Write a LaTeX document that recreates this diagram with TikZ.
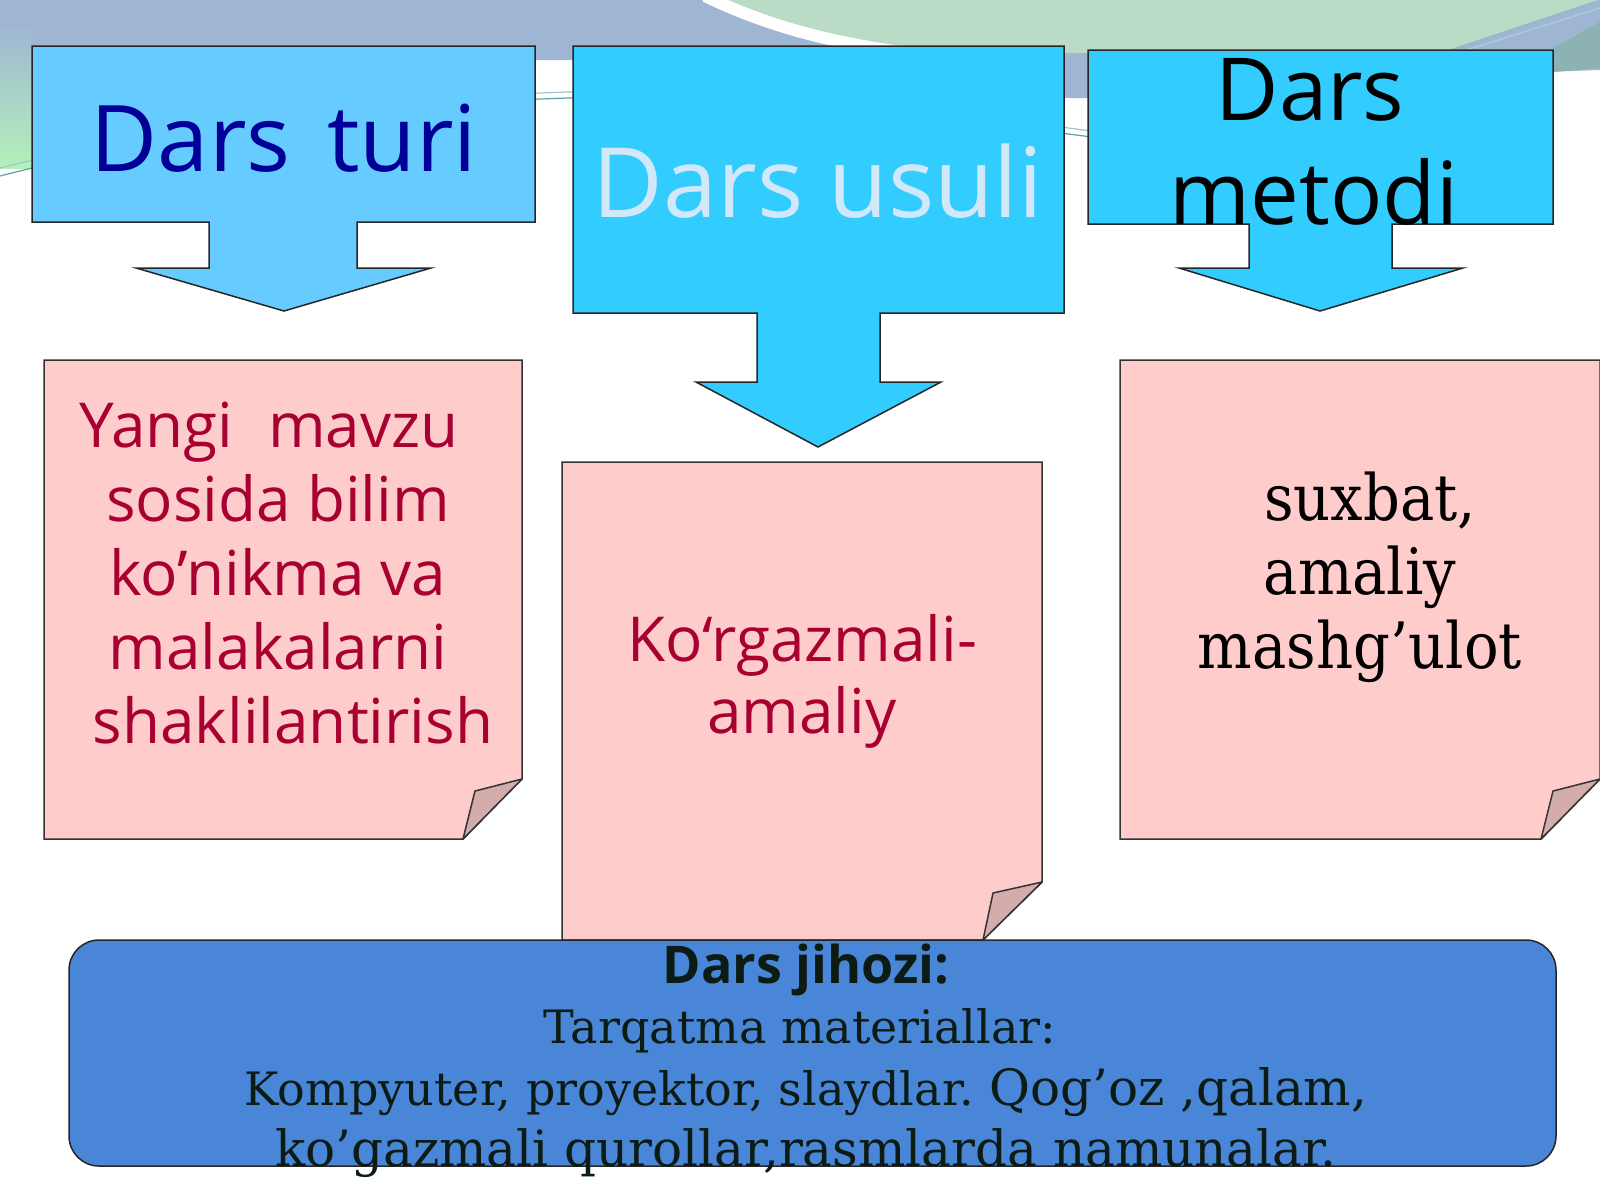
\documentclass[tikz,border=0pt]{standalone}
\usepackage{fontspec}
\usepackage{tikz}
\newfontfamily\SansFont{Open Sans}
\newfontfamily\SerifFont[FakeStretch=0.9]{DejaVu Serif}
\newfontfamily\EquipSerif{DejaVu Serif}
\definecolor{BgGray}{RGB}{158,182,212}
\definecolor{BgGreen}{RGB}{186,220,198}
\definecolor{BgTeal}{RGB}{140,178,180}
\definecolor{BgLine}{RGB}{90,160,170}
\definecolor{BoxA}{RGB}{102,204,255}
\definecolor{BoxB}{RGB}{51,204,255}
\definecolor{NoteFill}{RGB}{255,204,204}
\definecolor{FoldFill}{RGB}{212,172,172}
\definecolor{EquipFill}{RGB}{74,134,216}
\definecolor{TuriBlue}{RGB}{0,0,153}
\definecolor{UsuliText}{RGB}{208,232,250}
\definecolor{NoteRed}{RGB}{168,0,48}
\definecolor{EquipText}{RGB}{12,28,20}
\tikzstyle{TopBoxA}=[draw=black!85,fill=BoxA,line width=1.5pt,line join=miter]
\tikzstyle{TopBoxB}=[draw=black!85,fill=BoxB,line width=1.5pt,line join=miter]
\tikzstyle{NoteBox}=[draw=black!80,fill=NoteFill,line width=1.5pt,line join=miter]
\tikzstyle{NoteFold}=[draw=black!80,fill=FoldFill,line width=1.5pt,line join=round]
\tikzstyle{EquipBox}=[draw=black!85,fill=EquipFill,line width=1.5pt,rounded corners=30pt]
\tikzstyle{TopText}=[anchor=base,inner sep=0pt,align=center,font=\SansFont\fontsize{92}{102}\selectfont]
\tikzstyle{NoteSans}=[anchor=base,inner sep=0pt,align=center,text=NoteRed,font=\SansFont\fontsize{62}{74}\selectfont]
\tikzstyle{NoteSerif}=[anchor=base,inner sep=0pt,align=center,font=\SerifFont\fontsize{64}{74}\selectfont]
\tikzstyle{EquipText}=[anchor=base,inner sep=0pt,align=center,text=EquipText,font=\EquipSerif\fontsize{46}{61}\selectfont]
\newcommand{\BigSerif}{\fontsize{50}{61}\selectfont}

\begin{document}
\begin{tikzpicture}[x=1pt,y=-1pt]
        \useasboundingbox(0,0)rectangle(1600,1200);
        % background of the slide
        \fill[white](0,0)rectangle(1600,1200);
        \fill[BgGray](0,0)--(1600,0)--(1600,70)..controls(1300,80)and(1150,100)..(1070,98)
            ..controls(900,92)and(750,62)..(560,60)--(0,62)--cycle;
        \fill[BgGreen](725,0)..controls(790,30)and(870,48)..(960,54)--(1450,50)--(1600,0)--cycle;
        \draw[white,line width=12pt](705,-4)..controls(775,30)and(855,50)..(960,58);
        \fill[BgTeal](1553,48)--(1600,22)--(1600,68)--(1553,72)--cycle;
        \shade[top color=BgGray,bottom color=BgGreen!70!green!60](0,25)rectangle(32,168);
        \draw[BgLine,line width=1.2pt](0,176)..controls(250,112)and(500,96)..(650,97)
            ..controls(850,99)and(1000,126)..(1100,138);
        \draw[BgLine!60,line width=1.2pt](0,168)..controls(250,106)and(500,90)..(650,91)
            ..controls(850,93)and(1000,120)..(1100,132);
        \draw[BgLine!70,line width=1.2pt](1450,50)--(1600,0);
        \draw[BgLine!50,line width=1.2pt](1460,52)--(1600,8);
        % top boxes with their arrows
        \draw[TopBoxA](32,46)--(535,46)--(535,222)--(357,222)--(357,268)--(431,268)--(284,311)
            --(136,268)--(209,268)--(209,222)--(32,222)--cycle;
        \draw[TopBoxB](573,46)--(1064,46)--(1064,313)--(880,313)--(880,382)--(941,382)--(818,447)
            --(696,382)--(757,382)--(757,313)--(573,313)--cycle;
        \draw[TopBoxB](1088,50)--(1553,50)--(1553,224)--(1392,224)--(1392,268)--(1463,268)--(1320,311)
            --(1179,268)--(1249,268)--(1249,224)--(1088,224)--cycle;
        \node[TopText,text=TuriBlue](turi)at(284,171){Dars\hspace{0.14em} turi};
        \node[TopText,text=UsuliText,font=\SansFont\fontsize{97}{102}\selectfont](usuli)at(818,217){Dars usuli};
        \node[TopText,font=\SansFont\fontsize{87}{104}\selectfont](metodi)at(1314,224){Dars\hspace*{8pt}\\metodi};
        % notes
        \draw[NoteBox](44,360)--(522,360)--(522,779)--(463,839)--(44,839)--cycle;
        \draw[NoteFold](522,779)--(475,791)--(463,839)--cycle;
        \draw[NoteBox](562,462)--(1042,462)--(1042,882)--(983,940)--(562,940)--cycle;
        \draw[NoteFold](1042,882)--(993,893)--(983,940)--cycle;
        \draw[NoteBox](1120,360)--(1600,360)--(1600,779)--(1541,839)--(1120,839)--cycle;
        \draw[NoteFold](1600,779)--(1553,791)--(1541,839)--cycle;
        \node[NoteSans](yangi)at(278,743){Yangi\hspace{0.3em} mavzu\hspace*{18pt}\\sosida bilim\\ko’nikma va\\malakalarni\\\hspace*{30pt}shaklilantirish};
        \node[NoteSans,font=\SansFont\fontsize{62}{72}\selectfont](korgaz)at(802,733){Ko‘rgazmali-\\amaliy};
        \node[NoteSerif](suxbat)at(1360,668){\hspace*{20pt}suxbat,\\amaliy\hspace*{12pt}\\mashg’ulot};
        % equipment box
        \draw[EquipBox](69,940)rectangle(1556,1166);
        \node[EquipText,font=\SansFont\bfseries\fontsize{52}{61}\selectfont](jihoz)at(806,983){Dars jihozi:};
        \node[EquipText](tarqat)at(800,1043){Tarqatma materiallar:};
        \node[EquipText](kompy)at(806,1166){Kompyuter, proyektor, slaydlar.\hspace{-4pt} {\BigSerif Qog’oz ,qalam,}\\{\BigSerif ko’gazmali qurollar,rasmlarda namunalar.}};
    \end{tikzpicture}
\end{document}
